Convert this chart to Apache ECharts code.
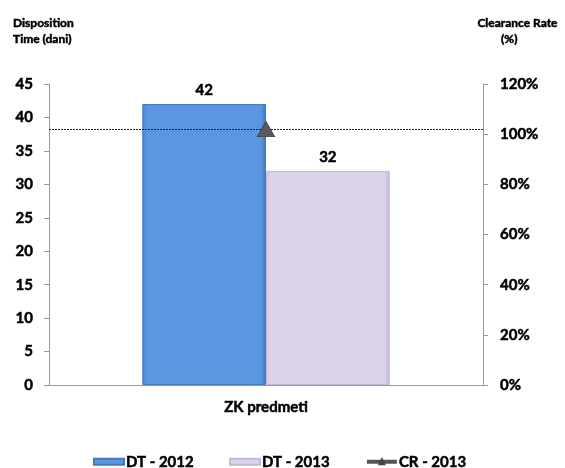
<!DOCTYPE html>
<html><head><meta charset="utf-8">
<script src="https://cdn.jsdelivr.net/npm/echarts@6/dist/echarts.min.js"></script>
<style>html,body{margin:0;padding:0;background:#fff}#c{width:565px;height:468px}</style>
</head><body><div id="c"></div>
<script>
const categories = ['ZK predmeti'];
const dt2012 = [42];
const dt2013 = [32];
const cr2013 = [102];
const leftTicks = {min: 0, max: 45, interval: 5};
const rightTicks = {min: 0, max: 120, interval: 20};

const FONT = 'Lato';
const T = {fontFamily: FONT, fontWeight: 'bold', color: '#000', textBorderColor: '#000', textBorderWidth: 0.5};
const chart = echarts.init(document.getElementById('c'));
chart.setOption({
  animation: false,
  textStyle: {fontFamily: FONT},
  title: [
    {text: 'Disposition\nTime (dani)', left: 8, top: 10,
     textStyle: Object.assign({}, T, {fontSize: 12, lineHeight: 16})},
    {text: 'Clearance Rate', right: 2, top: 10,
     textStyle: Object.assign({}, T, {fontSize: 12, lineHeight: 16})},
    {text: '(%)', left: 496, top: 26,
     textStyle: Object.assign({}, T, {fontSize: 12, lineHeight: 16})}
  ],
  grid: {left: 49, right: 82, top: 84, bottom: 83},
  legend: {
    top: 449, left: 88, itemGap: 35, itemWidth: 30, itemHeight: 6,
    textStyle: Object.assign({}, T, {fontSize: 15, padding: [0, 0, 0, -3]}),
    data: [
      {name: 'DT - 2012', icon: 'rect'},
      {name: 'DT - 2013', icon: 'rect'},
      {name: 'CR - 2013', lineStyle: {width: 4, color: '#555'}}
    ]
  },
  xAxis: {
    type: 'category', data: categories,
    axisLine: {lineStyle: {color: '#999'}},
    axisTick: {show: false},
    axisLabel: Object.assign({margin: 15, fontSize: 15}, T)
  },
  yAxis: [
    {type: 'value', min: leftTicks.min, max: leftTicks.max, interval: leftTicks.interval,
     axisLine: {show: true, lineStyle: {color: '#999'}},
     axisTick: {show: true, length: 5, lineStyle: {color: '#999'}},
     splitLine: {show: false},
     axisLabel: Object.assign({margin: 16, fontSize: 15}, T)},
    {type: 'value', min: rightTicks.min, max: rightTicks.max, interval: rightTicks.interval,
     position: 'right',
     axisLine: {show: true, lineStyle: {color: '#999'}},
     axisTick: {show: true, length: 5, lineStyle: {color: '#999'}},
     splitLine: {show: false},
     axisLabel: Object.assign({margin: 17, fontSize: 15, formatter: '{value}%'}, T)}
  ],
  series: [
    {name: 'DT - 2012', type: 'bar', data: dt2012, barGap: '0%', barCategoryGap: '43%',
     itemStyle: {color: new echarts.graphic.LinearGradient(0,0,1,0,[
        {offset: 0, color: '#4A82D0'}, {offset: 0.04, color: '#5B96E0'},
        {offset: 0.96, color: '#5B96E0'}, {offset: 1, color: '#3F74BF'}]),
        borderColor: '#4478C4', borderWidth: 1},
     label: Object.assign({show: true, position: 'top', distance: 6, fontSize: 15}, T)},
    {name: 'DT - 2013', type: 'bar', data: dt2013,
     itemStyle: {color: new echarts.graphic.LinearGradient(0,0,1,0,[
        {offset: 0, color: '#CFC4DE'}, {offset: 0.04, color: '#DCD3EA'},
        {offset: 0.96, color: '#DCD3EA'}, {offset: 1, color: '#C2B6D4'}]),
        borderColor: '#C5BAD6', borderWidth: 1},
     label: Object.assign({show: true, position: 'top', distance: 6, fontSize: 15}, T)},
    {name: 'CR - 2013', type: 'line', yAxisIndex: 1, data: cr2013,
     symbol: 'triangle', symbolSize: [17, 15],
     lineStyle: {color: '#555', width: 4},
     itemStyle: {color: '#5a5a5a', borderColor: '#444', borderWidth: 1},
     z: 5,
     markLine: {silent: true, symbol: 'none', label: {show: false},
       lineStyle: {color: '#222', type: [2, 1], width: 1},
       data: [{yAxis: cr2013[0]}]}}
  ]
});
</script></body></html>
